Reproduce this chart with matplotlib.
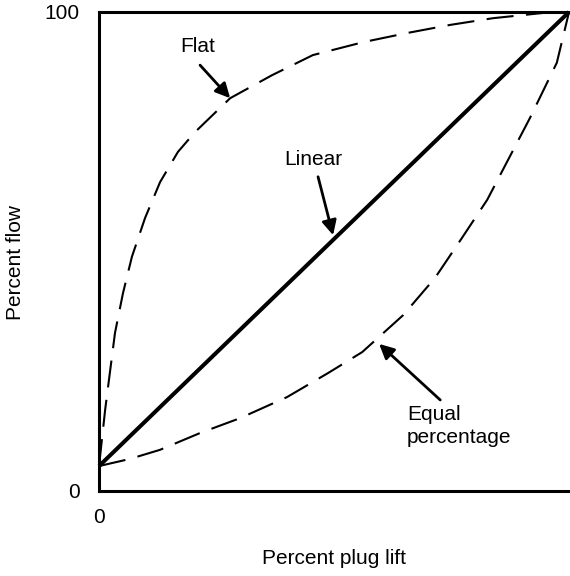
import matplotlib.pyplot as plt
import numpy as np

#--------------- Style ---------------------
plt.rcParams['font.family'] = ['Liberation Sans', 'DejaVu Sans']
plt.rcParams['font.size'] = 15

#--------------- Data ----------------------
# percent plug lift vs percent flow
lin_x = [0, 100]
lin_y = [5.2, 100]

flat_x = [0, 1.3, 2.3, 3.4, 5.1, 7.0, 9.8, 13.0, 16.8, 20.4, 27.9, 36.8, 45.5, 56.2, 65.5, 74.7, 83.8, 94.5, 100]
flat_y = [5.2, 16.9, 24.6, 33.0, 41.3, 48.9, 57.0, 64.5, 70.8, 74.9, 82.0, 86.8, 91.0, 93.7, 95.6, 97.3, 98.7, 99.8, 100]

eq_x = [0, 6.6, 13.0, 21.5, 30.0, 40.0, 48.7, 56.0, 64.7, 71.5, 77.2, 82.6, 91.7, 97.4, 100]
eq_y = [5.2, 6.7, 8.6, 12.1, 15.2, 19.6, 24.6, 29.0, 36.7, 44.5, 52.8, 60.8, 77.9, 89.4, 100]

labels = ["Flat", "Linear", "Equal\npercentage"]

#---------------- Graph ------------------
fig = plt.figure(figsize=(5.7, 5.76), dpi=100)
ax = fig.add_axes([0.1737, 0.1476, 0.8246, 0.8316])

ax.plot(lin_x, lin_y, color='black', lw=2.9, clip_on=False, solid_capstyle='butt')
ax.plot(flat_x, flat_y, color='black', lw=1.5, dashes=(13, 6), clip_on=False)
ax.plot(eq_x, eq_y, color='black', lw=1.5, dashes=(13, 6), clip_on=False)

arrow = dict(arrowstyle='-|>', color='black', lw=2, mutation_scale=22, shrinkA=0, shrinkB=0)
ax.text(20.9, 92.7, labels[0], ha='center', va='center')
ax.annotate('', xy=(27.9, 82.0), xytext=(21.5, 88.9), arrowprops=arrow)
ax.text(45.7, 69.1, labels[1], ha='center', va='center')
ax.annotate('', xy=(49.8, 53.4), xytext=(46.6, 65.6), arrowprops=arrow)
ax.text(65.5, 13.6, labels[2], ha='left', va='center', linespacing=1.3)
ax.annotate('', xy=(59.6, 30.7), xytext=(72.6, 19.0), arrowprops=arrow)

ax.set_xlim(0, 100)
ax.set_ylim(0, 100)
ax.set_xticks([0])
ax.set_yticks([0, 100])
ax.tick_params(axis='y', length=0, pad=14)
ax.tick_params(axis='x', length=0, pad=12)
ax.spines['right'].set_visible(False)
for s in ['left', 'bottom', 'top']:
    ax.spines[s].set_linewidth(2.2)

ax.set_xlabel("Percent plug lift")
ax.set_ylabel("Percent flow")
ax.xaxis.set_label_coords(0.5, -0.121)
ax.yaxis.set_label_coords(-0.157, 0.476)

fig.savefig("out.png", dpi=100)
